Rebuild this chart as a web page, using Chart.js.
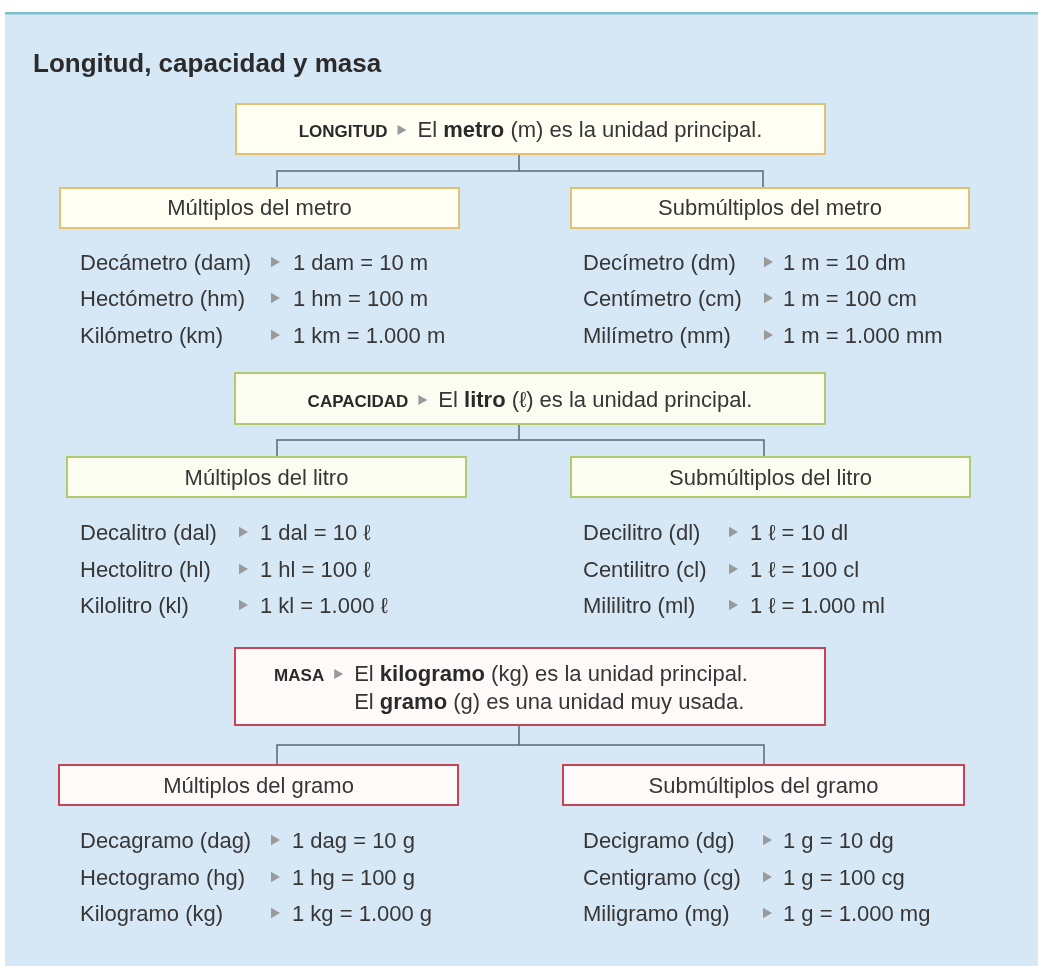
<!DOCTYPE html>
<html>
<head>
<meta charset="utf-8">
<script src="https://cdn.jsdelivr.net/npm/chart.js@4"></script>
<style>
  html, body { margin: 0; padding: 0; background: #fff; }
  canvas { display: block; }
</style>
</head>
<body>
<canvas id="esquema" width="1043" height="966"></canvas>
<script>
// textos del esquema
const titulo = 'Longitud, capacidad y masa';
const magnitudes = ['LONGITUD', 'CAPACIDAD', 'MASA'];
// cada linea de la cabecera: [texto, negrita]
const cabeceras = [
  [[['El ', false], ['metro', true], [' (m) es la unidad principal.', false]]],
  [[['El ', false], ['litro', true], [' (ℓ) es la unidad principal.', false]]],
  [[['El ', false], ['kilogramo', true], [' (kg) es la unidad principal.', false]],
   [['El ', false], ['gramo', true], [' (g) es una unidad muy usada.', false]]]
];
const titulosMultiplos = ['Múltiplos del metro', 'Múltiplos del litro', 'Múltiplos del gramo'];
const titulosSubmultiplos = ['Submúltiplos del metro', 'Submúltiplos del litro', 'Submúltiplos del gramo'];
const multiplos = [
  ['Decámetro (dam)', 'Hectómetro (hm)', 'Kilómetro (km)'],
  ['Decalitro (dal)', 'Hectolitro (hl)', 'Kilolitro (kl)'],
  ['Decagramo (dag)', 'Hectogramo (hg)', 'Kilogramo (kg)']
];
const equivMultiplos = [
  ['1 dam = 10 m', '1 hm = 100 m', '1 km = 1.000 m'],
  ['1 dal = 10 ℓ', '1 hl = 100 ℓ', '1 kl = 1.000 ℓ'],
  ['1 dag = 10 g', '1 hg = 100 g', '1 kg = 1.000 g']
];
const submultiplos = [
  ['Decímetro (dm)', 'Centímetro (cm)', 'Milímetro (mm)'],
  ['Decilitro (dl)', 'Centilitro (cl)', 'Mililitro (ml)'],
  ['Decigramo (dg)', 'Centigramo (cg)', 'Miligramo (mg)']
];
const equivSubmultiplos = [
  ['1 m = 10 dm', '1 m = 100 cm', '1 m = 1.000 mm'],
  ['1 ℓ = 10 dl', '1 ℓ = 100 cl', '1 ℓ = 1.000 ml'],
  ['1 g = 10 dg', '1 g = 100 cg', '1 g = 1.000 mg']
];

// posiciones (en unidades de las escalas)
const W = 1043, H = 966;
const colores = [
  { borde: '#e2c270', relleno: '#fffef3' },
  { borde: '#b0ca72', relleno: '#fbfdf1' },
  { borde: '#c24656', relleno: '#fffafa' }
];
const secciones = [
  { cab: [236, 104, 825, 154], cabBase: [137], cabDesp: 0, tronco: [519, 154, 171], rama: [277, 763], hijos: 188,
    cajaIzq: [60, 459], cajaDer: [571, 969], tituloBase: 215, filas: [270, 306, 343],
    nombreIzq: 80, flechaIzq: 274, eqIzq: 293, nombreDer: 583, flechaDer: 767, eqDer: 783 },
  { cab: [235, 373, 825, 424], cabBase: [407], cabDesp: 0, tronco: [519, 424, 440], rama: [277, 764], hijos: 457,
    cajaIzq: [67, 466], cajaDer: [571, 970], tituloBase: 485, filas: [540, 577, 613],
    nombreIzq: 80, flechaIzq: 242, eqIzq: 260, nombreDer: 583, flechaDer: 732, eqDer: 750 },
  { cab: [235, 648, 825, 725], cabBase: [681, 709], cabDesp: -19, tronco: [519, 725, 745], rama: [277, 764], hijos: 765,
    cajaIzq: [59, 458], cajaDer: [563, 964], tituloBase: 793, filas: [848, 885, 921],
    nombreIzq: 80, flechaIzq: 274, eqIzq: 292, nombreDer: 583, flechaDer: 766, eqDer: 783 }
];
const altoCaja = 40;

const FUENTE = '"Liberation Sans", Arial, sans-serif';
const TEXTO = '#363636';

// marcadores ▸ de cada fila
const marcadores = [];
secciones.forEach(s => {
  s.filas.forEach(b => {
    marcadores.push({ x: s.flechaIzq, y: b - 8 });
    marcadores.push({ x: s.flechaDer, y: b - 8 });
  });
});

const esquema = {
  id: 'esquema',
  beforeDatasetsDraw(chart) {
    const c = chart.ctx;
    const px = v => chart.scales.x.getPixelForValue(v);
    const py = v => chart.scales.y.getPixelForValue(v);

    // fondo
    c.save();
    c.fillStyle = '#ffffff';
    c.fillRect(0, 0, W, H);
    c.fillStyle = '#d6e7f5';
    c.fillRect(px(5), py(14), px(1038) - px(5), py(H) - py(14));
    c.fillStyle = '#7dbec9';
    c.fillRect(px(5), py(12), px(1038) - px(5), 2.5);

    // titulo
    c.fillStyle = '#2b2b2b';
    c.font = 'bold 26px ' + FUENTE;
    c.textBaseline = 'alphabetic';
    c.textAlign = 'left';
    c.fillText(titulo, px(33), py(72));

    function caja(x1, y1, x2, y2, col) {
      c.fillStyle = col.relleno;
      c.fillRect(px(x1), py(y1), px(x2) - px(x1), py(y2) - py(y1));
      c.strokeStyle = col.borde;
      c.lineWidth = 2;
      c.strokeRect(px(x1), py(y1), px(x2) - px(x1), py(y2) - py(y1));
    }

    function triangulo(x, yb, w) {
      c.fillStyle = '#9a9a9a';
      c.beginPath();
      c.moveTo(x, yb - 13);
      c.lineTo(x + w, yb - 8);
      c.lineTo(x, yb - 3);
      c.closePath();
      c.fill();
    }

    secciones.forEach((s, i) => {
      const col = colores[i];
      // conectores
      c.strokeStyle = '#56687a';
      c.lineWidth = 1.5;
      c.beginPath();
      c.moveTo(px(s.tronco[0]), py(s.tronco[1]));
      c.lineTo(px(s.tronco[0]), py(s.tronco[2]));
      c.moveTo(px(s.rama[0]), py(s.hijos));
      c.lineTo(px(s.rama[0]), py(s.tronco[2]));
      c.lineTo(px(s.rama[1]), py(s.tronco[2]));
      c.lineTo(px(s.rama[1]), py(s.hijos));
      c.stroke();

      // cabecera
      caja(s.cab[0], s.cab[1], s.cab[2], s.cab[3], col);
      const fMag = 'bold 17px ' + FUENTE;
      const fNor = '22px ' + FUENTE;
      const fNeg = 'bold 22px ' + FUENTE;
      c.font = fMag;
      const wMag = c.measureText(magnitudes[i]).width;
      const huecoFlecha = 10 + 9 + 11;
      const ancho = partes => partes.reduce((a, p) => {
        c.font = p[1] ? fNeg : fNor;
        return a + c.measureText(p[0]).width;
      }, 0);
      const total = wMag + huecoFlecha + ancho(cabeceras[i][0]);
      const centro = (px(s.cab[0]) + px(s.cab[2])) / 2 + s.cabDesp;
      let x0 = centro - total / 2;
      c.fillStyle = '#2a2a2a';
      c.font = fMag;
      c.fillText(magnitudes[i], x0, py(s.cabBase[0]));
      triangulo(x0 + wMag + 10, py(s.cabBase[0]) + 1, 9);
      const xEl = x0 + wMag + huecoFlecha;
      cabeceras[i].forEach((linea, k) => {
        let x = xEl;
        linea.forEach(p => {
          c.font = p[1] ? fNeg : fNor;
          c.fillStyle = p[1] ? '#2a2a2a' : TEXTO;
          c.fillText(p[0], x, py(s.cabBase[k]));
          x += c.measureText(p[0]).width;
        });
      });

      // cajas de multiplos y submultiplos
      const yb = s.hijos + altoCaja;
      caja(s.cajaIzq[0], s.hijos, s.cajaIzq[1], yb, col);
      caja(s.cajaDer[0], s.hijos, s.cajaDer[1], yb, col);
      c.font = '22px ' + FUENTE;
      c.fillStyle = TEXTO;
      c.textAlign = 'center';
      c.fillText(titulosMultiplos[i], (px(s.cajaIzq[0]) + px(s.cajaIzq[1])) / 2, py(s.tituloBase));
      c.fillText(titulosSubmultiplos[i], (px(s.cajaDer[0]) + px(s.cajaDer[1])) / 2, py(s.tituloBase));
      c.textAlign = 'left';

      // filas
      s.filas.forEach((b, k) => {
        c.fillText(multiplos[i][k], px(s.nombreIzq), py(b));
        c.fillText(equivMultiplos[i][k], px(s.eqIzq), py(b));
        c.fillText(submultiplos[i][k], px(s.nombreDer), py(b));
        c.fillText(equivSubmultiplos[i][k], px(s.eqDer), py(b));
      });
    });
    c.restore();
  }
};

new Chart(document.getElementById('esquema'), {
  type: 'scatter',
  data: {
    datasets: [{
      data: marcadores,
      pointStyle: 'triangle',
      rotation: 90,
      radius: 6,
      backgroundColor: '#9a9a9a',
      borderWidth: 0
    }]
  },
  options: {
    responsive: false,
    animation: false,
    events: [],
    layout: { padding: 0, autoPadding: false },
    plugins: {
      legend: { display: false },
      tooltip: { enabled: false }
    },
    scales: {
      x: { type: 'linear', min: 0, max: W, display: false },
      y: { type: 'linear', min: 0, max: H, reverse: true, display: false }
    }
  },
  plugins: [esquema]
});
</script>
</body>
</html>
